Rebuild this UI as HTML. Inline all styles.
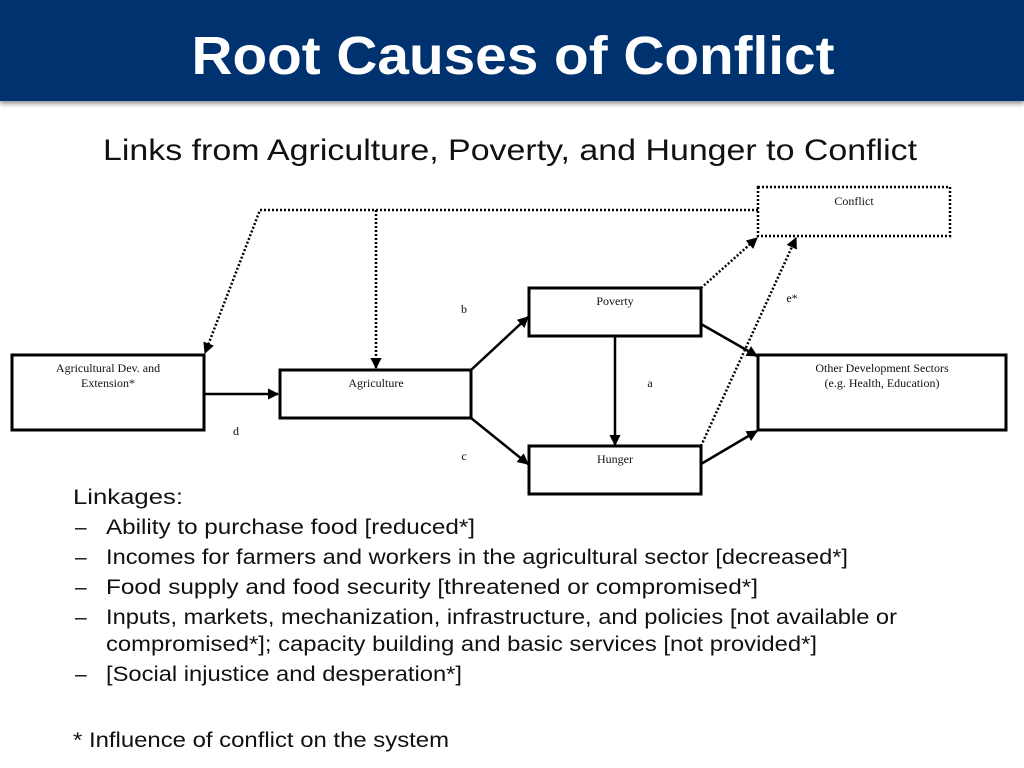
<!DOCTYPE html>
<html><head><meta charset="utf-8"><style>
html,body{margin:0;padding:0;background:#fff;}
svg{display:block;}
.s{font-family:"Liberation Sans",sans-serif;}
.t{font-family:"Liberation Serif",serif;font-size:12px;fill:#111;}
</style></head><body>
<svg width="1024" height="768" viewBox="0 0 1024 768" xmlns="http://www.w3.org/2000/svg">
<defs>
<marker id="a" viewBox="0 0 10 10" refX="9" refY="5" markerWidth="4.5" markerHeight="4.5" orient="auto"><path d="M0,0L10,5L0,10z" fill="#000"/></marker>
<filter id="sh"><feDropShadow dx="0" dy="3" stdDeviation="2" flood-color="#000" flood-opacity="0.4"/></filter>
</defs>
<rect x="0" y="0" width="1024" height="101" fill="#00336f" filter="url(#sh)"/>
<text x="513" y="74" text-anchor="middle" class="s" font-weight="bold" font-size="54" fill="#fff" textLength="643" lengthAdjust="spacingAndGlyphs">Root Causes of Conflict</text>
<text x="510" y="160" text-anchor="middle" class="s" font-size="30" fill="#111" textLength="814" lengthAdjust="spacingAndGlyphs">Links from Agriculture, Poverty, and Hunger to Conflict</text>

<g fill="none" stroke="#000" stroke-width="3">
<rect x="12" y="355" width="192" height="75"/>
<rect x="280" y="370" width="191" height="48"/>
<rect x="529" y="288" width="172" height="48"/>
<rect x="529" y="446" width="172" height="48"/>
<rect x="758" y="355" width="248" height="75"/>
</g>
<g fill="none" stroke="#000" stroke-width="2.5">
<line x1="204" y1="394" x2="278" y2="394" marker-end="url(#a)"/>
<line x1="471" y1="370" x2="528" y2="317" marker-end="url(#a)"/>
<line x1="471" y1="418" x2="528" y2="464" marker-end="url(#a)"/>
<line x1="615" y1="336" x2="615" y2="445" marker-end="url(#a)"/>
<line x1="701" y1="324" x2="757" y2="356" marker-end="url(#a)"/>
<line x1="701" y1="464" x2="757" y2="431" marker-end="url(#a)"/>
</g>
<g fill="none" stroke="#000" stroke-width="2.5" stroke-dasharray="2,2">
<rect x="758" y="187" width="192" height="49"/>
<polyline points="758,210 260,210 205,353" marker-end="url(#a)"/>
<line x1="376" y1="210" x2="376" y2="368" marker-end="url(#a)"/>
<line x1="701" y1="288" x2="757" y2="238" marker-end="url(#a)"/>
<line x1="701" y1="446" x2="796" y2="238" marker-end="url(#a)"/>
</g>
<text class="t" x="854" y="205" text-anchor="middle">Conflict</text>
<text class="t" x="108" y="372" text-anchor="middle">Agricultural Dev. and</text>
<text class="t" x="108" y="387" text-anchor="middle">Extension*</text>
<text class="t" x="376" y="387" text-anchor="middle">Agriculture</text>
<text class="t" x="615" y="305" text-anchor="middle">Poverty</text>
<text class="t" x="615" y="463" text-anchor="middle">Hunger</text>
<text class="t" x="882" y="372" text-anchor="middle">Other Development Sectors</text>
<text class="t" x="882" y="387" text-anchor="middle">(e.g. Health, Education)</text>
<text class="t" x="464" y="313" text-anchor="middle">b</text>
<text class="t" x="236" y="435" text-anchor="middle">d</text>
<text class="t" x="464" y="460" text-anchor="middle">c</text>
<text class="t" x="650" y="387" text-anchor="middle">a</text>
<text class="t" x="792" y="302" text-anchor="middle">e*</text>

<g class="s" font-size="21" fill="#111">
<text x="73" y="504" textLength="110" lengthAdjust="spacingAndGlyphs">Linkages:</text>
<text x="75" y="534">–</text><text x="106" y="534" textLength="369" lengthAdjust="spacingAndGlyphs">Ability to purchase food [reduced*]</text>
<text x="75" y="564">–</text><text x="106" y="564" textLength="742" lengthAdjust="spacingAndGlyphs">Incomes for farmers and workers in the agricultural sector [decreased*]</text>
<text x="75" y="594">–</text><text x="106" y="594" textLength="652" lengthAdjust="spacingAndGlyphs">Food supply and food security [threatened or compromised*]</text>
<text x="75" y="624">–</text><text x="106" y="624" textLength="791" lengthAdjust="spacingAndGlyphs">Inputs, markets, mechanization, infrastructure, and policies [not available or</text>
<text x="106" y="651" textLength="711" lengthAdjust="spacingAndGlyphs">compromised*]; capacity building and basic services [not provided*]</text>
<text x="75" y="681">–</text><text x="106" y="681" textLength="356" lengthAdjust="spacingAndGlyphs">[Social injustice and desperation*]</text>
<text x="73" y="747" textLength="376" lengthAdjust="spacingAndGlyphs">* Influence of conflict on the system</text>
</g>
</svg>
</body></html>
